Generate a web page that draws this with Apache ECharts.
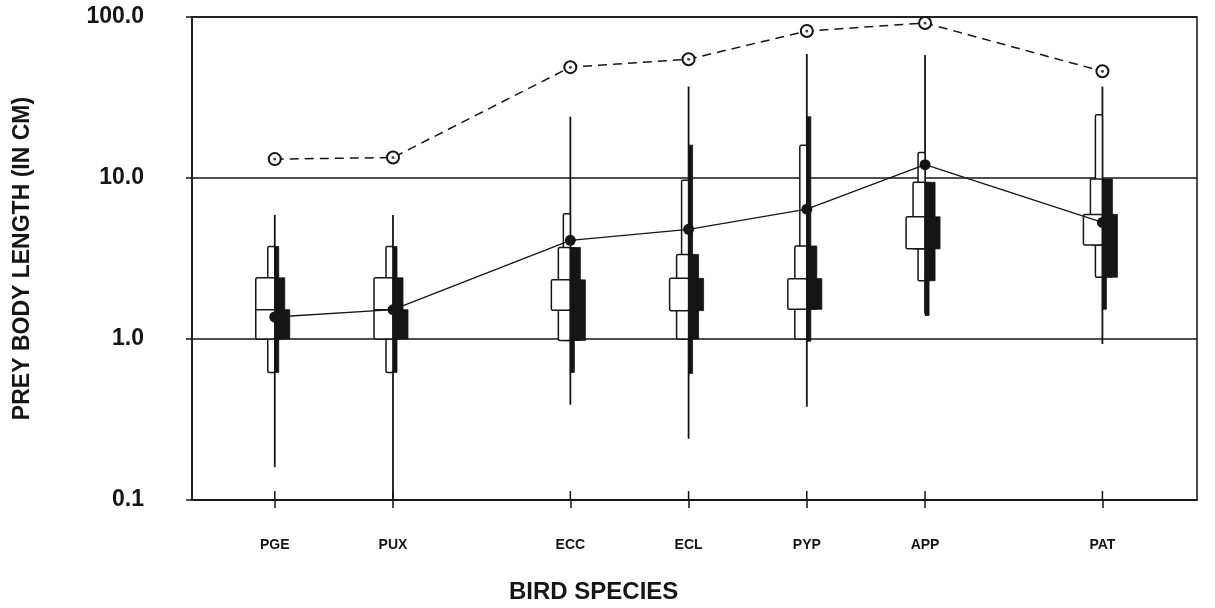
<!DOCTYPE html>
<html>
<head>
<meta charset="utf-8">
<style>
  html, body { margin: 0; padding: 0; background: #fff; }
  #chart { width: 1215px; height: 608px; }
</style>
<script src="https://cdn.jsdelivr.net/npm/echarts@6/dist/echarts.min.js"></script>
</head>
<body>
<div id="chart"></div>
<script>
// species and their place along the x axis
const species = ['PGE', 'PUX', 'ECC', 'ECL', 'PYP', 'APP', 'PAT'];
const speciesPos = [0.7, 1.7, 3.2, 4.2, 5.2, 6.2, 7.7];

// prey length (cm)
const whiskerLow = [0.16, 0.1, 0.39, 0.24, 0.38, 1.45, 0.93];
const whiskerHigh = [5.9, 5.9, 24, 37, 59, 58, 37];

// open (left) boxes: outer, middle, inner ranges
const whiteOuter = [[0.62, 3.75], [0.62, 3.75], [0.98, 6.0], [1.0, 9.7], [1.0, 16], [2.3, 14.4], [2.42, 24.7]];
const whiteMiddle = [[1.0, 2.4], [1.0, 2.4], [0.98, 3.7], [1.0, 3.35], [1.0, 3.78], [3.63, 9.4], [3.83, 9.85]];
const whiteInner = [[1.0, 2.4], [1.0, 2.4], [1.51, 2.33], [1.5, 2.38], [1.53, 2.37], [3.63, 5.74], [3.83, 5.94]];
const whiteSplit = [1.52, 1.52, null, null, null, null, null];

// filled (right) boxes: outer, middle, inner ranges
const blackOuter = [[0.62, 3.75], [0.62, 3.75], [0.62, 3.7], [0.61, 16], [0.97, 24], [1.4, 9.4], [1.53, 9.85]];
const blackMiddle = [[1.0, 2.4], [1.0, 2.4], [0.98, 3.7], [1.0, 3.35], [1.53, 3.78], [2.3, 9.4], [2.42, 9.85]];
const blackInner = [[1.0, 1.52], [1.0, 1.52], [0.98, 2.33], [1.5, 2.38], [1.53, 2.37], [3.63, 5.74], [2.42, 5.94]];

// mean (filled dot, solid line) and maximum (open circle, dashed line)
const meanLength = [1.37, 1.52, 4.1, 4.8, 6.4, 12.1, 5.3];
const maxLength = [13.1, 13.4, 48.8, 54.7, 81.8, 91.8, 46];

const INK = '#151515';
const FONT = '"Liberation Sans", Arial, Helvetica, sans-serif';

var chart = echarts.init(document.getElementById('chart'));

function renderBoxes(params, api) {
    var i = params.dataIndex;
    var x = api.value(0);
    var cx = api.coord([x, 1])[0];
    var yOf = function (v) { return api.coord([x, v])[1]; };
    var children = [];

    children.push({
        type: 'line',
        shape: { x1: cx, y1: yOf(whiskerLow[i]), x2: cx, y2: yOf(whiskerHigh[i]) },
        style: { stroke: INK, lineWidth: 1.8 }
    });

    [[whiteOuter[i], 7], [whiteMiddle[i], 12], [whiteInner[i], 19]].forEach(function (b) {
        var top = yOf(b[0][1]), bottom = yOf(b[0][0]);
        children.push({
            type: 'rect',
            shape: { x: cx - b[1], y: top, width: b[1], height: bottom - top, r: 1.5 },
            style: { fill: '#fff', stroke: INK, lineWidth: 1.5 }
        });
    });
    if (whiteSplit[i] != null) {
        var ys = yOf(whiteSplit[i]);
        children.push({
            type: 'line',
            shape: { x1: cx - 19, y1: ys, x2: cx, y2: ys },
            style: { stroke: INK, lineWidth: 1.5 }
        });
    }

    [[blackOuter[i], 4], [blackMiddle[i], 10], [blackInner[i], 15]].forEach(function (b) {
        var top = yOf(b[0][1]), bottom = yOf(b[0][0]);
        children.push({
            type: 'rect',
            shape: { x: cx, y: top, width: b[1], height: bottom - top },
            style: { fill: INK, stroke: INK, lineWidth: 0.8 }
        });
    });

    return { type: 'group', children: children };
}

function renderInnerTicks(params, api) {
    var p = api.coord([api.value(0), 0.1]);
    return {
        type: 'line',
        shape: { x1: p[0], y1: p[1], x2: p[0], y2: p[1] - 9 },
        style: { stroke: INK, lineWidth: 1.5 }
    };
}

var boxData = species.map(function (s, i) { return [speciesPos[i], whiskerLow[i], whiskerHigh[i]]; });
var meanData = species.map(function (s, i) { return [speciesPos[i], meanLength[i]]; });
var maxData = species.map(function (s, i) { return [speciesPos[i], maxLength[i]]; });

var option = {
    backgroundColor: '#fff',
    animation: false,
    grid: {
        left: 192, right: 18, top: 17, bottom: 108,
        show: true, borderColor: INK, borderWidth: 1.5, backgroundColor: 'transparent'
    },
    xAxis: {
        type: 'value',
        min: 0,
        max: 8.5,
        splitLine: { show: false },
        axisLine: { show: true, lineStyle: { color: INK, width: 1.5 } },
        axisTick: {
            show: true, customValues: speciesPos, length: 8,
            lineStyle: { color: INK, width: 1.5 }
        },
        axisLabel: {
            customValues: speciesPos,
            margin: 38,
            color: INK,
            fontFamily: FONT,
            fontWeight: 'bold',
            fontSize: 14,
            formatter: function (v) {
                var k = speciesPos.findIndex(function (p) { return Math.abs(p - v) < 1e-6; });
                return k >= 0 ? species[k] : '';
            }
        }
    },
    yAxis: {
        type: 'log',
        logBase: 10,
        min: 0.1,
        max: 100,
        name: 'PREY BODY LENGTH (IN CM)',
        nameLocation: 'middle',
        nameGap: 158,
        nameTextStyle: { color: INK, fontFamily: FONT, fontWeight: 'bold', fontSize: 23 },
        axisLine: { show: true, lineStyle: { color: INK, width: 1.5 } },
        axisTick: { show: true, length: 6, lineStyle: { color: INK, width: 1.5 } },
        splitLine: { show: true, lineStyle: { color: INK, width: 1.5 } },
        axisLabel: {
            margin: 48,
            color: INK,
            fontFamily: FONT,
            fontWeight: 'bold',
            fontSize: 23,
            formatter: function (v) {
                return v >= 1 ? Number(v).toFixed(1) : String(v);
            }
        }
    },
    graphic: [{
        type: 'text',
        left: 509,
        top: 580,
        style: {
            text: 'BIRD SPECIES',
            fill: INK,
            font: 'bold 24px ' + FONT
        }
    }],
    series: [
        {
            type: 'custom',
            name: 'boxes',
            renderItem: renderBoxes,
            data: boxData,
            z: 3
        },
        {
            type: 'custom',
            name: 'ticks',
            renderItem: renderInnerTicks,
            data: speciesPos.map(function (p) { return [p, 0.1]; }),
            clip: false,
            z: 3
        },
        {
            type: 'line',
            name: 'mean',
            data: meanData,
            symbol: 'circle',
            symbolSize: 11,
            itemStyle: { color: INK },
            lineStyle: { color: INK, width: 1.3 },
            z: 4
        },
        {
            type: 'line',
            name: 'max',
            data: maxData,
            symbol: 'emptyCircle',
            symbolSize: 12,
            itemStyle: { color: INK, borderColor: INK, borderWidth: 1.5 },
            lineStyle: { color: INK, width: 1.5, type: [9, 6] },
            z: 4
        },
        {
            type: 'scatter',
            name: 'maxCentre',
            data: maxData,
            symbol: 'circle',
            symbolSize: 3,
            itemStyle: { color: INK },
            z: 5
        }
    ]
};

chart.setOption(option);
window.addEventListener('resize', function () { chart.resize(); });
</script>
</body>
</html>
